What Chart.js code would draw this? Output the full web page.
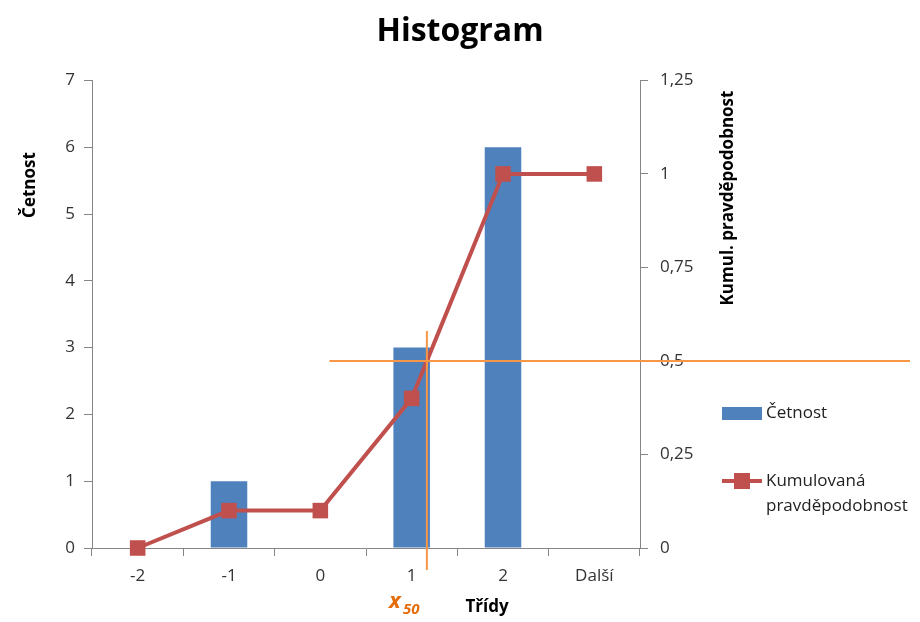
<!DOCTYPE html>
<html>
<head>
<meta charset="utf-8">
<script src="https://cdn.jsdelivr.net/npm/chart.js@4"></script>
<style>
  body { margin: 0; background: #fff; }
  #wrap { width: 920px; height: 622px; position: relative; }
</style>
</head>
<body>
<div id="wrap"><canvas id="myChart"></canvas></div>
<script>
// data
const tridy = ['-2', '-1', '0', '1', '2', 'Další'];
const cetnost = [0, 1, 0, 3, 6, 0];
const kumul = [0, 0.1, 0.1, 0.4, 1, 1];
const hladina = 0.5; // level for x50

const modra = '#4F81BD';
const cervena = '#C0504D';
const oranzova = '#F79646';
const seda = '#868686';
const textFont = "'Open Sans', 'DejaVu Sans', sans-serif";

// where the cumulative line crosses the level (as fractional category index)
function indexX50() {
    for (let i = 1; i < kumul.length; i++) {
        if (kumul[i - 1] < hladina && kumul[i] >= hladina) {
            return i - 1 + (hladina - kumul[i - 1]) / (kumul[i] - kumul[i - 1]);
        }
    }
    return 0;
}

const popisky = {
    id: 'popisky',
    afterDatasetsDraw(chart) {
        const ctx = chart.ctx;
        const x = chart.scales.x;
        const y1 = chart.scales.y1;
        const area = chart.chartArea;
        const krok = x.getPixelForValue(1) - x.getPixelForValue(0);

        // orange x50 guide lines
        const ix = indexX50();
        const px = x.getPixelForValue(0) + ix * krok;
        const py = y1.getPixelForValue(hladina);
        ctx.save();
        ctx.strokeStyle = oranzova;
        ctx.lineWidth = 2;
        ctx.beginPath();
        ctx.moveTo(x.getPixelForValue(2) + krok * 0.1, py);
        ctx.lineTo(chart.width - 10, py);
        ctx.moveTo(px, y1.getPixelForValue(0.58));
        ctx.lineTo(px, area.bottom + 22);
        ctx.stroke();
        ctx.restore();
    },
    afterDraw(chart) {
        const ctx = chart.ctx;
        const x = chart.scales.x;
        const krok = x.getPixelForValue(1) - x.getPixelForValue(0);
        const ix = indexX50();
        const px = x.getPixelForValue(0) + ix * krok;
        ctx.save();

        // axis titles
        ctx.fillStyle = '#000';
        ctx.font = "bold 17px " + textFont;
        ctx.textAlign = 'center';
        ctx.textBaseline = 'middle';
        ctx.save();
        ctx.translate(30, 185);
        ctx.rotate(-Math.PI / 2);
        ctx.fillText('Četnost', 0, 0);
        ctx.restore();
        ctx.save();
        ctx.translate(728, 198);
        ctx.rotate(-Math.PI / 2);
        ctx.fillText('Kumul. pravděpodobnost', 0, 0);
        ctx.restore();
        ctx.fillText('Třídy', 487, 607);

        // x50 label
        ctx.fillStyle = '#E46C0A';
        ctx.textAlign = 'left';
        ctx.font = "italic bold 22px " + textFont;
        ctx.fillText('x', px - 38, 602);
        ctx.font = "italic bold 15px " + textFont;
        ctx.fillText('50', px - 24, 610);

        // legend
        ctx.fillStyle = modra;
        ctx.fillRect(722, 407, 40, 13);
        ctx.strokeStyle = cervena;
        ctx.lineWidth = 4;
        ctx.beginPath();
        ctx.moveTo(722, 481);
        ctx.lineTo(762, 481);
        ctx.stroke();
        ctx.fillStyle = cervena;
        ctx.fillRect(734, 473, 16, 16);
        ctx.fillStyle = '#222';
        ctx.font = "17px " + textFont;
        ctx.fillText('Četnost', 766, 413);
        ctx.fillText('Kumulovaná', 766, 481);
        ctx.fillText('pravděpodobnost', 766, 506);
        ctx.restore();
    }
};

const grafico = document.getElementById('myChart');
new Chart(grafico, {
    type: 'bar',
    data: {
        labels: tridy,
        datasets: [
            {
                type: 'line',
                label: 'Kumulovaná pravděpodobnost',
                data: kumul,
                yAxisID: 'y1',
                borderColor: cervena,
                backgroundColor: cervena,
                borderWidth: 4,
                pointStyle: 'rect',
                pointRadius: 11,
                pointHoverRadius: 11,
                pointBorderWidth: 0,
                clip: false,
                order: 0
            },
            {
                label: 'Četnost',
                data: cetnost,
                yAxisID: 'y',
                backgroundColor: modra,
                categoryPercentage: 1,
                barPercentage: 0.4,
                order: 1
            }
        ]
    },
    options: {
        responsive: true,
        maintainAspectRatio: false,
        animation: false,
        layout: { padding: 0 },
        plugins: {
            legend: { display: false },
            tooltip: { enabled: false },
            title: {
                display: true,
                text: 'Histogram',
                color: '#000',
                font: { family: textFont, size: 32, weight: 'bold' },
                padding: { top: 13, bottom: 29 }
            }
        },
        scales: {
            x: {
                afterFit: s => { s.height = 74; },
                border: { color: seda, width: 1 },
                grid: { drawOnChartArea: false, drawTicks: true, tickLength: 8, color: seda, offset: true },
                ticks: { color: '#333', font: { family: textFont, size: 17 }, padding: 10 }
            },
            y: {
                position: 'left',
                min: 0,
                max: 7,
                afterFit: s => { s.width = 92; },
                border: { color: seda, width: 1 },
                grid: { drawOnChartArea: false, drawTicks: true, tickLength: 8, color: seda },
                ticks: { stepSize: 1, color: '#333', font: { family: textFont, size: 17 }, padding: 9 }
            },
            y1: {
                position: 'right',
                min: 0,
                max: 1.25,
                afterFit: s => { s.width = 280; },
                border: { color: seda, width: 1 },
                grid: { drawOnChartArea: false, drawTicks: true, tickLength: 8, color: seda },
                ticks: {
                    stepSize: 0.25,
                    color: '#333',
                    font: { family: textFont, size: 17 },
                    padding: 12,
                    callback: v => String(v).replace('.', ',')
                }
            }
        }
    },
    plugins: [popisky]
});
</script>
</body>
</html>
